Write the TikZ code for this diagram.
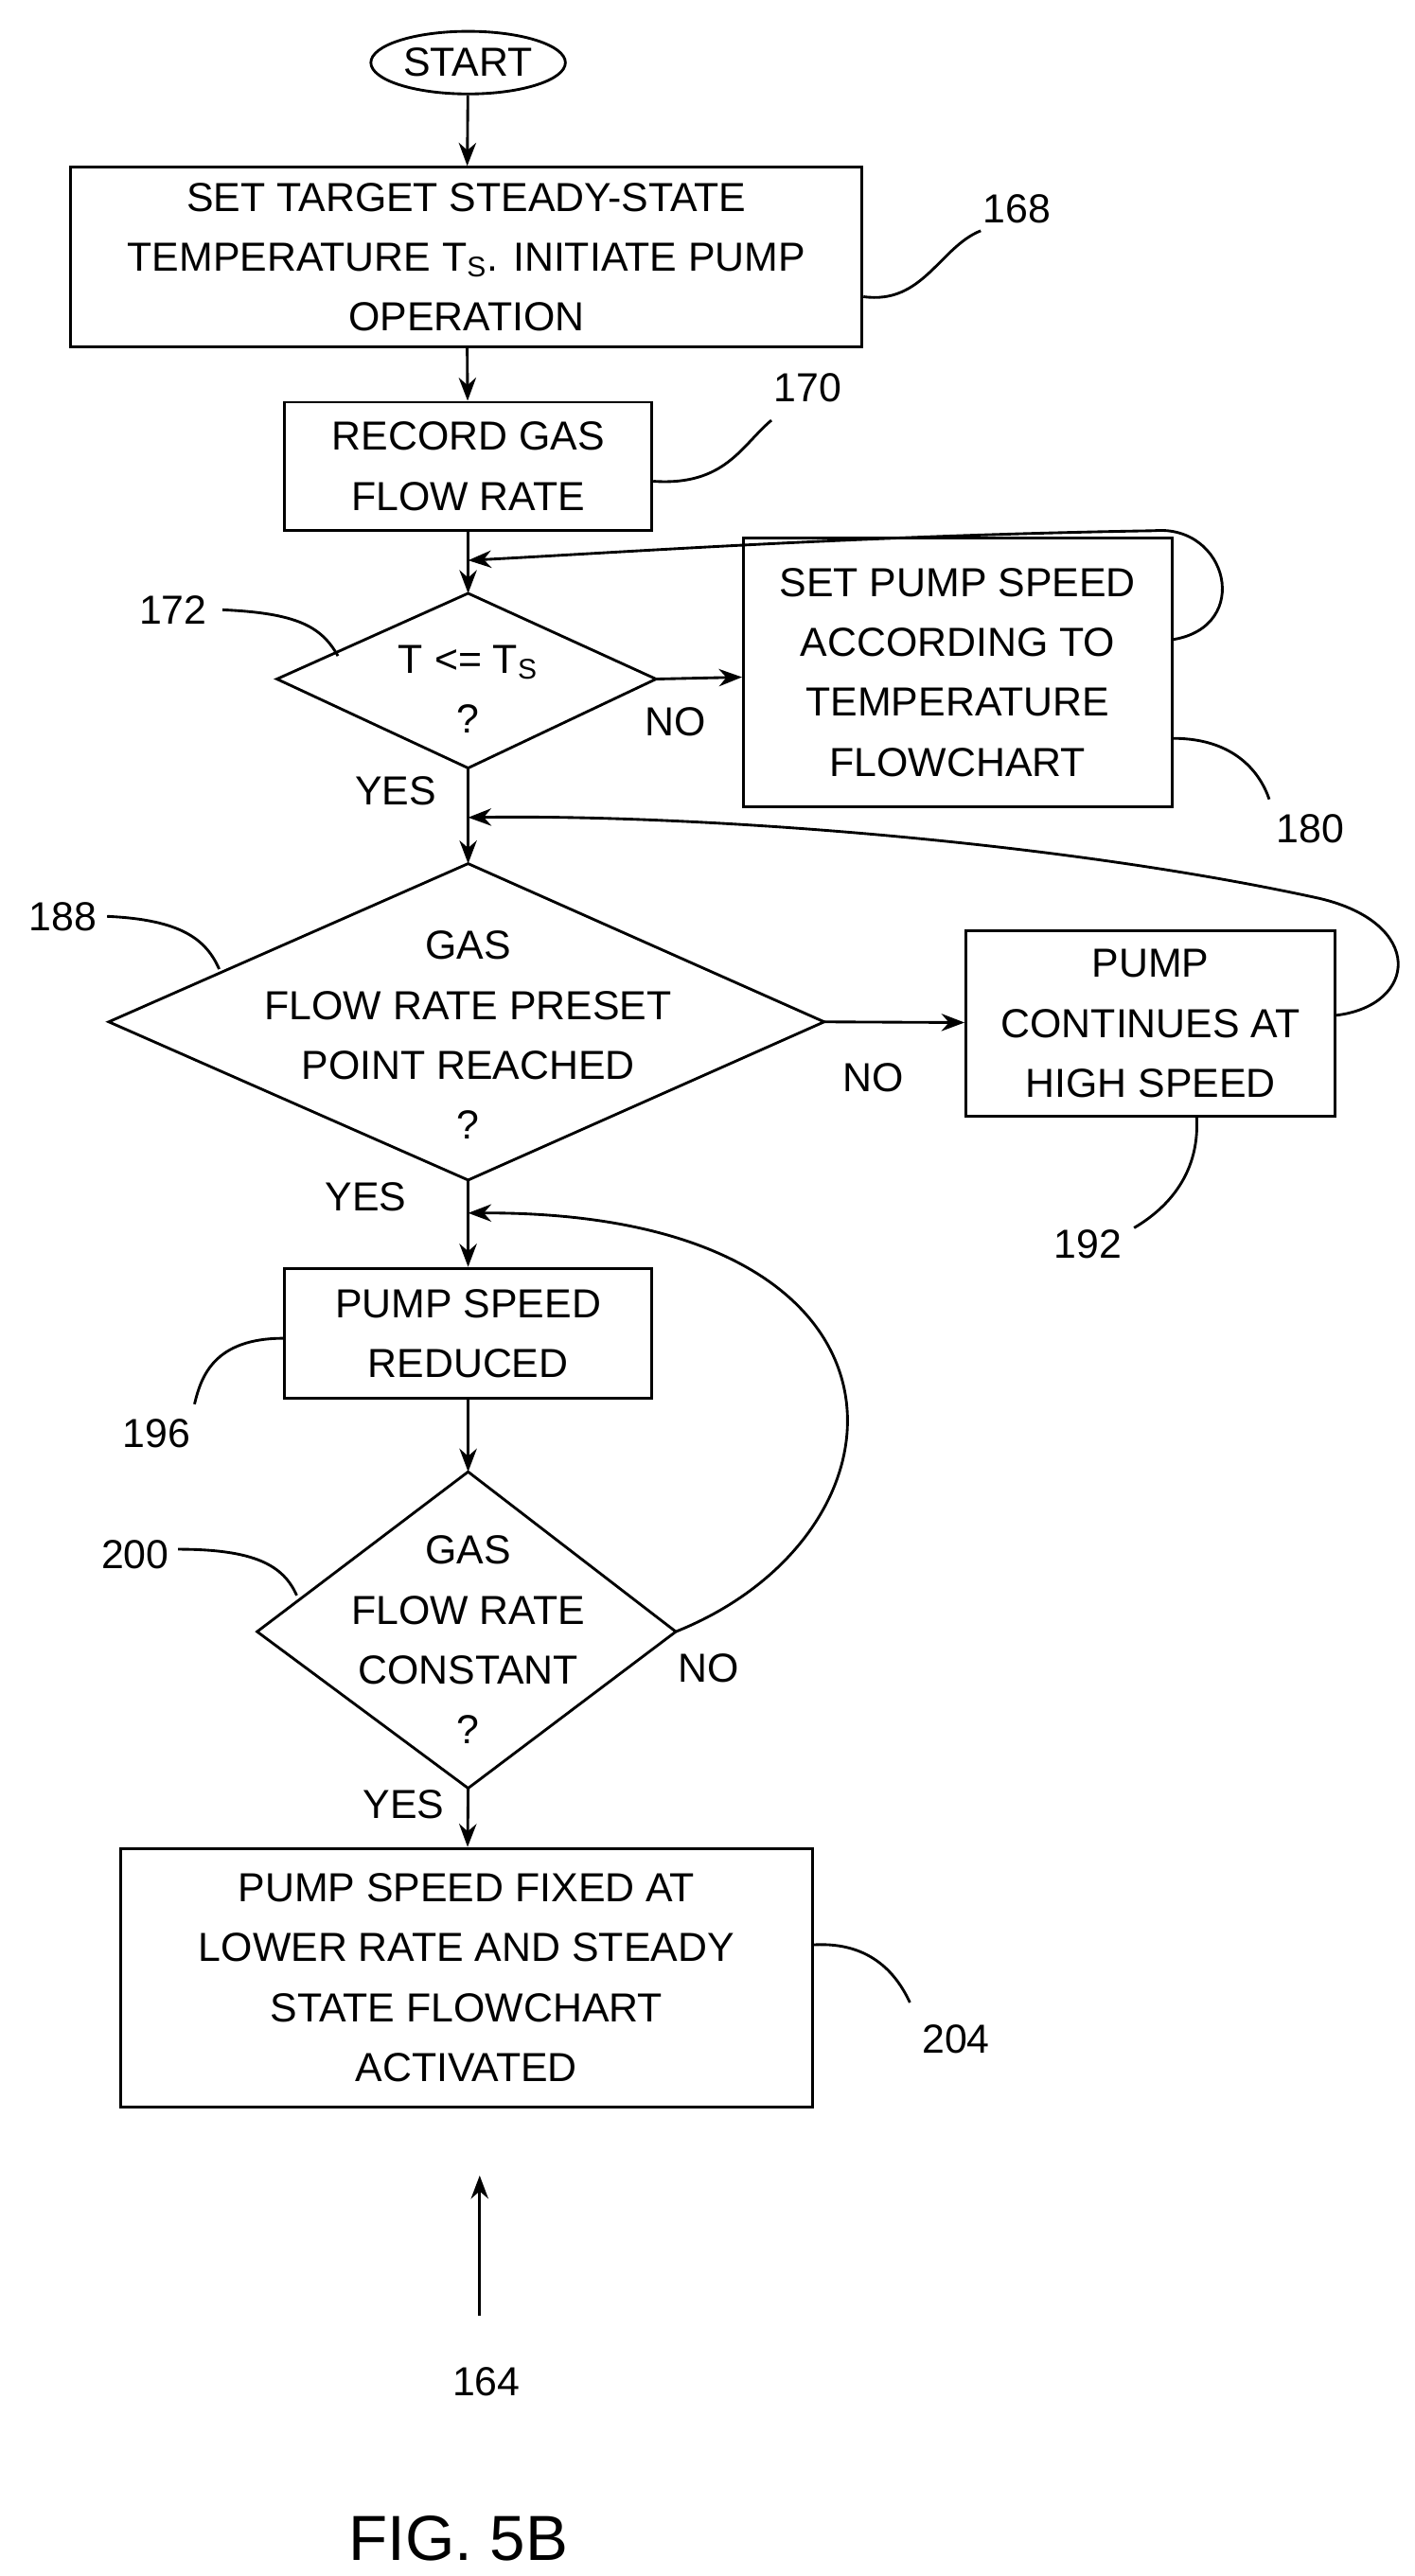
\documentclass[tikz,border=0pt]{standalone}
\usepackage{fontspec}
\setmainfont{Liberation Sans}
\usetikzlibrary{shapes.geometric,arrows.meta}
\begin{document}
\begin{tikzpicture}[x=0.03cm,y=-0.03cm,
  every node/.style={font=\fontsize{21}{31}\selectfont},
  box/.style={draw,line width=1.4pt,align=center,inner sep=0pt},
  dia/.style={draw,line width=1.4pt,diamond,align=center,inner sep=0pt,aspect=2},
  ln/.style={line width=1.4pt},
  ar/.style={line width=1.4pt,-{Stealth[length=12pt,width=9pt]}},
  lab/.style={inner sep=1pt}]
\useasboundingbox (0,0) rectangle (858,1563);
\node[draw,line width=1.4pt,ellipse,minimum width=118*0.03cm,minimum height=38*0.03cm,inner sep=0pt] (start) at (284,38) {START};
\node[box,minimum width=480*0.03cm,minimum height=109*0.03cm] (b168) at (283,156) {SET TARGET STEADY-STATE\\TEMPERATURE T\textsubscript{S}. INITIATE PUMP\\OPERATION};
\node[box,minimum width=223*0.03cm,minimum height=78*0.03cm] (b170) at (284,283) {RECORD GAS\\FLOW RATE};
\coordinate (d172) at (284,412);
\draw[ln] (168,412) coordinate (d172w) -- (284,360) coordinate (d172n) -- (398,412) coordinate (d172e) -- (284,466) coordinate (d172s) -- cycle;
\node[lab,align=center] (t172) at (284,418) {T <= T\textsubscript{S}\\?};
\node[box,minimum width=260*0.03cm,minimum height=163*0.03cm] (b180) at (581,408) {SET PUMP SPEED\\ACCORDING TO\\TEMPERATURE\\FLOWCHART};
\draw[ln] (66,620) coordinate (d188w) -- (284,524) coordinate (d188n) -- (500,620) coordinate (d188e) -- (284,716) coordinate (d188s) -- cycle;
\node[lab,align=center] (t188) at (284,628) {GAS\\FLOW RATE PRESET\\POINT REACHED\\?};
\node[box,minimum width=224*0.03cm,minimum height=113*0.03cm] (b192) at (698,621) {PUMP\\CONTINUES AT\\HIGH SPEED};
\node[box,minimum width=223*0.03cm,minimum height=79*0.03cm] (b196) at (284,809) {PUMP SPEED\\REDUCED};
\draw[ln] (156,990) coordinate (d200w) -- (284,893) coordinate (d200n) -- (410,990) coordinate (d200e) -- (284,1085) coordinate (d200s) -- cycle;
\node[lab,align=center] (t200) at (284,995) {GAS\\FLOW RATE\\CONSTANT\\?};
\node[box,minimum width=420*0.03cm,minimum height=157*0.03cm] (b204) at (283,1200) {PUMP SPEED FIXED AT\\LOWER RATE AND STEADY\\STATE FLOWCHART\\ACTIVATED};
% main connectors
\draw[ar] (start) -- (b168);
\draw[ar] (b168) -- (b170);
\draw[ar] (b170) -- (d172n);
\draw[ar] (d172e) -- (b180);
\draw[ar] (d172s) -- (d188n);
\draw[ar] (d188e) -- (b192);
\draw[ar] (d188s) -- (b196);
\draw[ar] (b196) -- (d200n);
\draw[ar] (d200s) -- (b204);
\coordinate (m1) at (284,340);
\coordinate (m2) at (284,496);
\coordinate (m3) at (284,736);
\draw[ar] (b180.east |- 0,388) .. controls (760,380) and (745,318) .. (700,322) .. controls (520,325) and (380,335) .. (m1);
\draw[ar] (b192.east |- 0,616) .. controls (860,610) and (865,560) .. (800,545) .. controls (640,510) and (420,494) .. (m2);
\draw[ar] (d200e) .. controls (560,930) and (570,735) .. (m3);
\node[lab] (no1) at (410,438) {NO};
\node[lab] (yes1) at (240,480) {YES};
\node[lab] (no2) at (530,654) {NO};
\node[lab] (yes2) at (222,726) {YES};
\node[lab] (no3) at (430,1012) {NO};
\node[lab] (yes3) at (245,1095) {YES};
% reference numerals
\node[lab] (n168) at (617,127) {168};
\draw[ln] (b168.east |- 0,180) .. controls (560,185) and (570,150) .. (595,140);
\node[lab] (n170) at (490,235) {170};
\draw[ln] (b170.east |- 0,292) .. controls (440,295) and (450,270) .. (468,255);
\node[lab] (n172) at (105,370) {172};
\draw[ln] (135,370) .. controls (180,372) and (195,380) .. (205,398);
\node[lab] (n180) at (795,503) {180};
\draw[ln] (b180.east |- 0,448) .. controls (750,448) and (765,470) .. (770,485);
\node[lab] (n188) at (38,556) {188};
\draw[ln] (65,556) .. controls (110,558) and (125,570) .. (133,588);
\node[lab] (n192) at (660,755) {192};
\draw[ln] (726,678) .. controls (728,715) and (705,735) .. (688,745);
\node[lab] (n196) at (95,870) {196};
\draw[ln] (172,812) .. controls (130,812) and (122,835) .. (118,852);
\node[lab] (n200) at (82,943) {200};
\draw[ln] (108,940) .. controls (155,940) and (172,950) .. (180,968);
\node[lab] (n204) at (580,1237) {204};
\draw[ln] (b204.east |- 0,1180) .. controls (530,1178) and (545,1200) .. (552,1215);
\coordinate (a164) at (291,1405);
\coordinate (a164t) at (291,1320);
\draw[ar] (a164) -- (a164t);
\node[lab] (n164) at (295,1445) {164};
\node[lab,font=\fontsize{33}{40}\selectfont] (fig) at (278,1540) {FIG. 5B};
\end{tikzpicture}
\end{document}
